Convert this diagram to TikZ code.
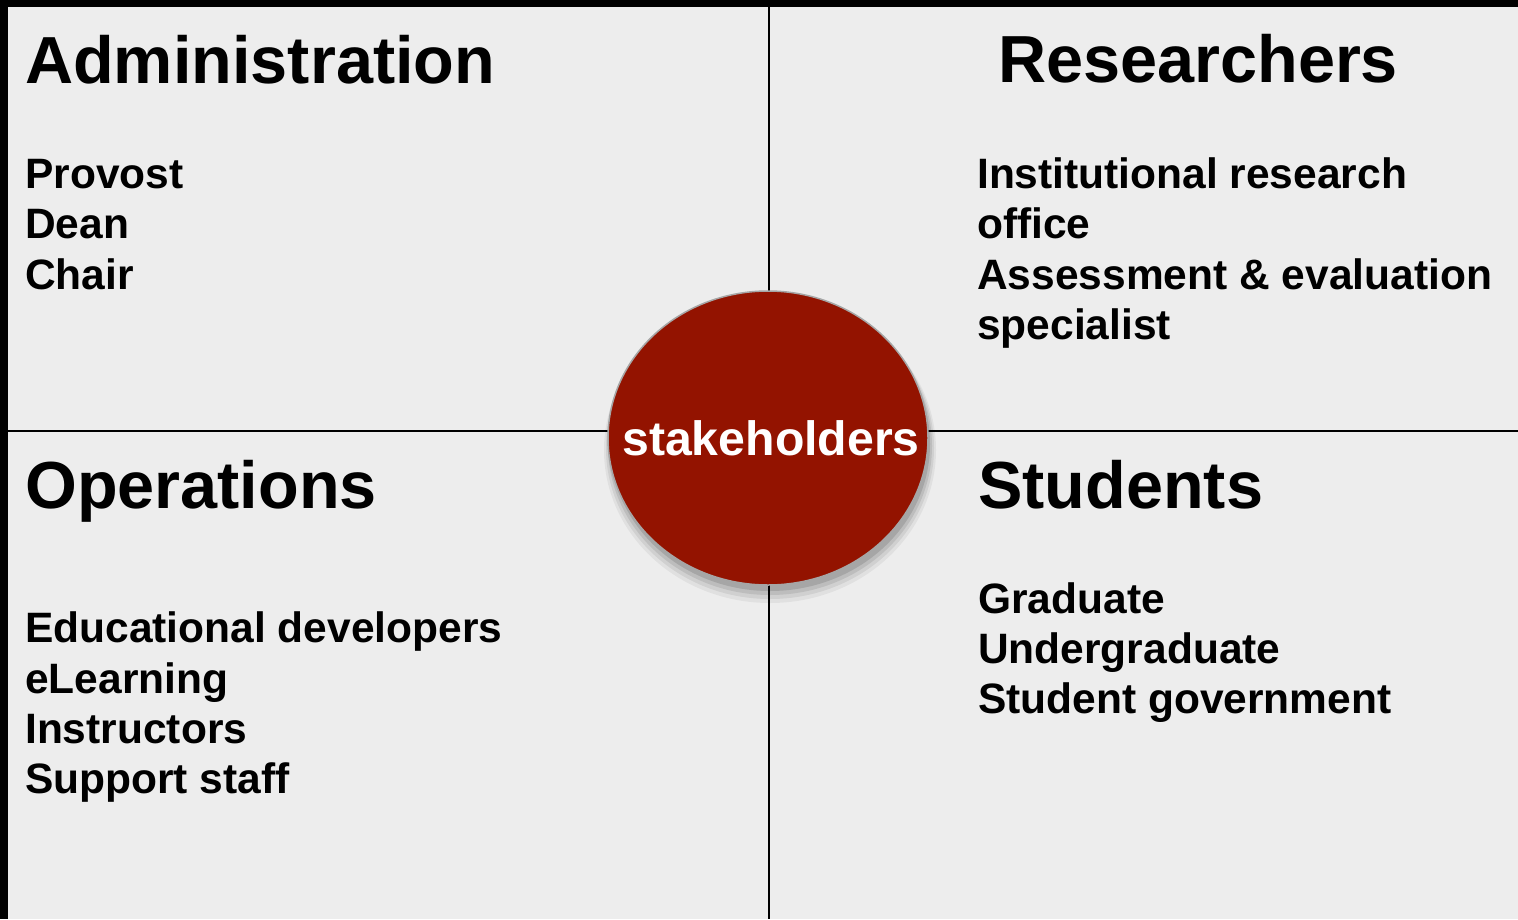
\documentclass[tikz,border=0pt]{standalone}
\usepackage{fontspec}
\setmainfont{Liberation Sans}
\definecolor{panel}{HTML}{EDEDED}
\definecolor{hub}{HTML}{931300}
\begin{document}
\begin{tikzpicture}[x=1pt,y=-1pt,
  title/.style={anchor=base west,inner sep=0pt,font=\fontsize{66.6}{70}\selectfont\bfseries},
  item/.style={anchor=base west,inner sep=0pt,font=\fontsize{42.5}{50}\selectfont\bfseries},
  hubtext/.style={inner sep=0pt,text=white,font=\fontsize{48.2}{52}\selectfont\bfseries}]
\useasboundingbox (0,0) rectangle (1518,919);
\fill[black] (0,0) rectangle (1518,919);
\fill[panel] (8,7) rectangle (1518,919);
% dividers
\draw[line width=2pt] (769,7) -- (769,919);
\draw[line width=2pt] (8,431) -- (1518,431);
% titles
\node[title] (adm) at (25,83) {Administration};
\node[title] (res) at (998,82) {Researchers};
\node[title] (ops) at (25,508) {Operations};
\node[title] (stu) at (978,508) {Students};
% administration
\node[item] (a1) at (25,188) {Provost};
\node[item] (a2) at (25,238) {Dean};
\node[item] (a3) at (25,289) {Chair};
% researchers
\node[item] (r1) at (977,188) {Institutional research};
\node[item] (r2) at (977,238) {office};
\node[item] (r3) at (977,289) {Assessment \& evaluation};
\node[item] (r4) at (977,339) {specialist};
% operations
\node[item] (o1) at (25,642) {Educational developers};
\node[item] (o2) at (25,693) {eLearning};
\node[item] (o3) at (25,743) {Instructors};
\node[item] (o4) at (25,793) {Support staff};
% students
\node[item] (s1) at (978,613) {Graduate};
\node[item] (s2) at (978,663) {Undergraduate};
\node[item] (s3) at (978,713) {Student government};
% hub shadow
\foreach \r/\d/\o in {6/12/0.05,4/10/0.07,2/8/0.09,0/6/0.12}
  \fill[black,opacity=\o] (770,{438+\d}) ellipse ({160+\r} and {147+\r});
\fill[hub] (768,438) ellipse (160 and 147);
\draw[gray!70,line width=1.5pt] (768,438) ellipse (160 and 147);
\node[hubtext] (hub) at (771,438) {stakeholders};
\end{tikzpicture}
\end{document}
